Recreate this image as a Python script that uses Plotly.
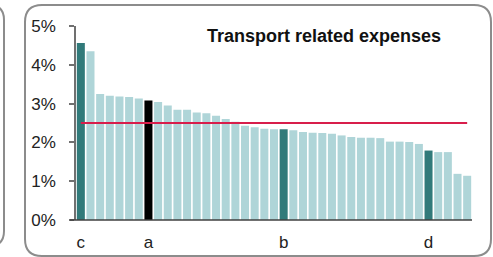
import plotly.graph_objects as go

# ---- data ----
values = [4.56, 4.35, 3.25, 3.20, 3.18, 3.17, 3.13, 3.08, 3.04, 2.95,
          2.84, 2.84, 2.77, 2.75, 2.69, 2.60, 2.53, 2.43, 2.39, 2.35,
          2.34, 2.34, 2.31, 2.27, 2.25, 2.24, 2.22, 2.18, 2.14, 2.12,
          2.12, 2.11, 2.02, 2.02, 2.01, 1.96, 1.79, 1.75, 1.75, 1.19, 1.14]
label_pos = [0, 7, 21, 36]
label_text = ["c", "a", "b", "d"]
bar_kind = ["dark", "other", "other", "other", "other", "other", "other", "black"] + ["other"] * 13 + ["dark"] + ["other"] * 14 + ["dark"] + ["other"] * 4
benchmark = 2.5
y_ticks = [0, 1, 2, 3, 4, 5]
title_text = "Transport related expenses"

kind_color = {"other": "#afd5d8", "dark": "#317a7a", "black": "#000000"}
colors = [kind_color[k] for k in bar_kind]
x = list(range(len(values)))

W, H = 493, 257
L, R, T, B = 76, 472, 26, 220
FONT = "Liberation Sans, Arial, sans-serif"

def px(xp):
    return (xp - L) / (R - L)

def py(yp):
    return (B - yp) / (B - T)

def rounded(x0, y0, x1, y1, r):
    pts = [
        f"M {px(x0 + r)} {py(y0)}",
        f"L {px(x1 - r)} {py(y0)}",
        f"Q {px(x1)} {py(y0)} {px(x1)} {py(y0 + r)}",
        f"L {px(x1)} {py(y1 - r)}",
        f"Q {px(x1)} {py(y1)} {px(x1 - r)} {py(y1)}",
        f"L {px(x0 + r)} {py(y1)}",
        f"Q {px(x0)} {py(y1)} {px(x0)} {py(y1 - r)}",
        f"L {px(x0)} {py(y0 + r)}",
        f"Q {px(x0)} {py(y0)} {px(x0 + r)} {py(y0)}",
        "Z",
    ]
    return " ".join(pts)

fig = go.Figure()
fig.add_trace(go.Bar(x=x, y=values, marker=dict(color=colors, line=dict(width=0)),
                     hoverinfo="skip"))
fig.add_trace(go.Scatter(x=[x[0], x[-1]], y=[benchmark, benchmark], mode="lines",
                         line=dict(color="#d81e4b", width=2), hoverinfo="skip"))

shapes = [
    dict(type="path", xref="paper", yref="paper", path=rounded(25, 5, 491, 256, 17),
         line=dict(color="#8c8c8c", width=2), layer="below"),
    dict(type="path", xref="paper", yref="paper", path=rounded(-40, 5, 4, 246, 15),
         line=dict(color="#8c8c8c", width=2), layer="below"),
    dict(type="line", xref="paper", yref="paper", x0=px(70), x1=px(R), y0=0, y1=0,
         line=dict(color="#404040", width=1.5)),
]

fig.update_layout(
    width=W, height=H,
    margin=dict(l=L, r=W - R, t=T, b=H - B, pad=0, autoexpand=False),
    paper_bgcolor="white", plot_bgcolor="white",
    showlegend=False, bargap=0.17,
    font=dict(family=FONT, size=17, color="#222222"),
    shapes=shapes,
    annotations=[dict(text=f"<b>{title_text}</b>", xref="paper", yref="paper",
                      x=px(324), y=py(36), xanchor="center", yanchor="middle",
                      showarrow=False, font=dict(family=FONT, size=18, color="#111111"))],
    xaxis=dict(range=[-0.5, len(values) - 0.5], tickvals=label_pos, ticktext=label_text,
               showgrid=False, zeroline=False, showline=False, ticks="",
               ticklabelstandoff=10, automargin=False,
               tickfont=dict(size=17, color="#222222"), fixedrange=True),
    yaxis=dict(range=[0, 5], tickvals=y_ticks, ticktext=[f"{v}%" for v in y_ticks],
               showgrid=False, zeroline=False, showline=True, linecolor="#707070",
               linewidth=1.5, ticks="outside", ticklen=5, tickcolor="#707070",
               tickwidth=1.5, ticklabelstandoff=10, automargin=False,
               tickfont=dict(size=17, color="#222222"), fixedrange=True),
)

fig.write_html("out.html", config={"displayModeBar": False},
               post_script="document.body.style.margin='0';document.body.style.padding='0';")
